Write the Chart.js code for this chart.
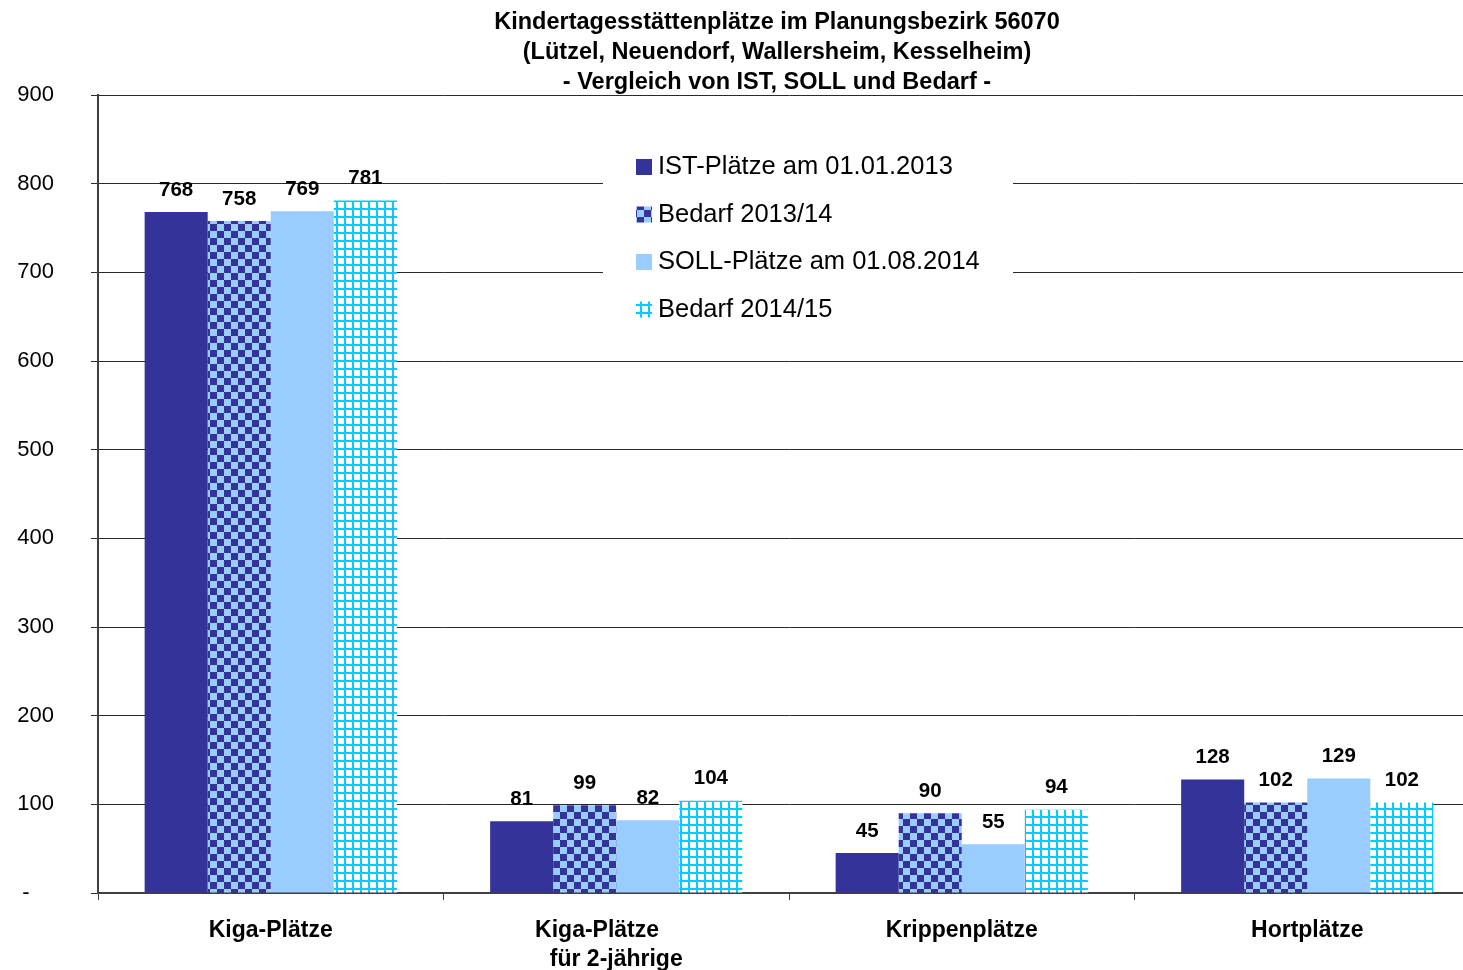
<!DOCTYPE html>
<html lang="de">
<head>
<meta charset="utf-8">
<title>Kindertagesstättenplätze 56070</title>
<script src="https://cdn.jsdelivr.net/npm/chart.js@4/dist/chart.umd.min.js"></script>
<style>
    html, body { margin: 0; padding: 0; background: #fff; overflow: hidden; }
    /* plot runs a little past the right edge of the window */
    #wrap { width: 1480px; height: 970px; position: relative; }
</style>
</head>
<body>
<div id="wrap"><canvas id="platzChart"></canvas></div>
<script>
// --- Data ---
const categories = [
    'Kiga-Plätze',
    ['Kiga-Plätze      ', 'für 2-jährige'],
    'Krippenplätze',
    'Hortplätze'
];
const seriesNames = ['IST-Plätze am 01.01.2013', 'Bedarf 2013/14', 'SOLL-Plätze am 01.08.2014', 'Bedarf 2014/15'];
const istPlaetze = [768, 81, 45, 128];
const bedarf1314 = [758, 99, 90, 102];
const sollPlaetze = [769, 82, 55, 129];
const bedarf1415 = [781, 104, 94, 102];
const titleLines = [
    'Kindertagesstättenplätze im Planungsbezirk 56070',
    '(Lützel, Neuendorf, Wallersheim, Kesselheim)',
    '- Vergleich von IST, SOLL und Bedarf -'
];

const DARK = '#333399';
const LIGHT = '#99ccff';
const CYAN = '#00ccff';
const FONT = '"Liberation Sans", Arial, sans-serif';

// --- Fill patterns ---
function makeChecker(ctx) {
    const c = document.createElement('canvas');
    c.width = 14; c.height = 14;
    const g = c.getContext('2d');
    g.fillStyle = LIGHT;
    g.fillRect(0, 0, 14, 14);
    g.fillStyle = DARK;
    g.fillRect(0, 0, 7, 7);
    g.fillRect(7, 7, 7, 7);
    return ctx.createPattern(c, 'repeat');
}

function makeGrid(ctx) {
    const c = document.createElement('canvas');
    c.width = 8; c.height = 8;
    const g = c.getContext('2d');
    g.fillStyle = '#ffffff';
    g.fillRect(0, 0, 8, 8);
    g.fillStyle = CYAN;
    g.fillRect(0, 0, 2, 8);
    g.fillRect(0, 0, 8, 2);
    return ctx.createPattern(c, 'repeat');
}

const canvas = document.getElementById('platzChart');
const mainCtx = canvas.getContext('2d');
const checker = makeChecker(mainCtx);
const gridFill = makeGrid(mainCtx);
const fills = [DARK, checker, LIGHT, gridFill];

// --- Plugins ---
const titlePlugin = {
    id: 'titleLines',
    afterDraw(chart) {
        const { ctx, chartArea } = chart;
        const cx = chartArea.left + 679;
        ctx.save();
        ctx.font = 'bold 23.5px ' + FONT;
        ctx.fillStyle = '#000';
        ctx.textAlign = 'center';
        ctx.textBaseline = 'middle';
        titleLines.forEach((line, i) => ctx.fillText(line, cx, 22.5 + i * 30));
        ctx.restore();
    }
};

const valueLabels = {
    id: 'valueLabels',
    afterDatasetsDraw(chart) {
        const { ctx } = chart;
        ctx.save();
        ctx.font = 'bold 20.5px ' + FONT;
        ctx.fillStyle = '#000';
        ctx.textAlign = 'center';
        ctx.textBaseline = 'middle';
        chart.data.datasets.forEach((ds, i) => {
            chart.getDatasetMeta(i).data.forEach((bar, j) => {
                ctx.fillText(String(ds.data[j]), bar.x, bar.y - 22);
            });
        });
        ctx.restore();
    }
};

// legend box sits inside the plot and blanks the gridlines behind it
const legendBox = {
    id: 'legendBox',
    afterDraw(chart) {
        const { ctx, chartArea } = chart;
        const left = chartArea.left + 505;
        const top = chartArea.top + 46;
        ctx.save();
        ctx.fillStyle = '#fff';
        ctx.fillRect(left, top, 410, 192);
        ctx.font = '25.5px ' + FONT;
        ctx.textBaseline = 'middle';
        chart.data.datasets.forEach((ds, i) => {
            const y = top + 26 + i * 47.5;
            ctx.fillStyle = fills[i];
            ctx.fillRect(left + 33, y - 8, 16, 16);
            ctx.fillStyle = '#000';
            ctx.fillText(ds.label, left + 55, y);
        });
        ctx.restore();
    }
};

// --- Chart ---
new Chart(canvas, {
    type: 'bar',
    data: {
        labels: categories,
        datasets: [
            { label: seriesNames[0], data: istPlaetze, backgroundColor: fills[0] },
            { label: seriesNames[1], data: bedarf1314, backgroundColor: fills[1] },
            { label: seriesNames[2], data: sollPlaetze, backgroundColor: fills[2] },
            { label: seriesNames[3], data: bedarf1415, backgroundColor: fills[3] }
        ]
    },
    options: {
        responsive: true,
        maintainAspectRatio: false,
        animation: false,
        layout: { padding: { top: 95, left: 0, right: 0, bottom: 0 } },
        datasets: {
            bar: { categoryPercentage: 0.73, barPercentage: 1.0, borderWidth: 0 }
        },
        plugins: {
            legend: { display: false },
            title: { display: false },
            tooltip: { enabled: false }
        },
        scales: {
            x: {
                afterFit(scale) { scale.height = 77; },
                grid: { drawOnChartArea: false, offset: true, tickLength: 7, color: '#404040' },
                border: { color: '#404040', width: 2 },
                ticks: {
                    color: '#000',
                    padding: 16,
                    maxRotation: 0,
                    font: { family: FONT, size: 23, weight: 'bold', lineHeight: 1.27 }
                }
            },
            y: {
                min: 0,
                max: 900,
                afterFit(scale) { scale.width = 98; },
                grid: { color: '#2a2a2a', lineWidth: 1, tickLength: 7 },
                border: { color: '#404040', width: 2 },
                ticks: {
                    stepSize: 100,
                    color: '#000',
                    padding: 37,
                    font: { family: FONT, size: 22 },
                    callback: v => (v === 0 ? '-    ' : v)
                }
            }
        }
    },
    plugins: [titlePlugin, valueLabels, legendBox]
});
</script>
</body>
</html>
